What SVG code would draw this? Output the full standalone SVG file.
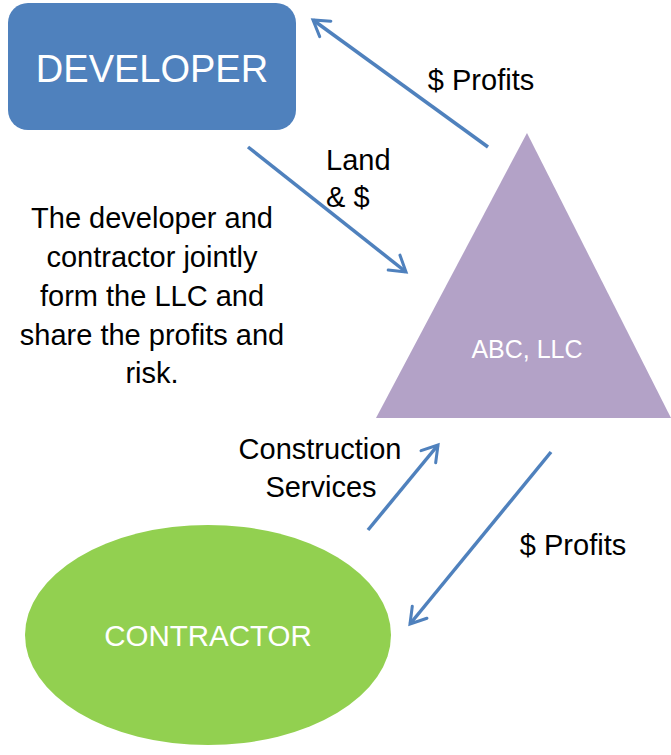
<svg xmlns="http://www.w3.org/2000/svg" width="671" height="755" viewBox="0 0 671 755">
<style>
.lbl{font-family:"Liberation Sans",Arial,sans-serif;font-size:29px;fill:#000;text-anchor:middle}
.wt{font-family:"Liberation Sans",Arial,sans-serif;fill:#fff;text-anchor:middle}
.arr{stroke:#4F81BD;stroke-width:3.5;fill:none;marker-end:url(#ah)}
</style>
<defs>
<marker id="ah" viewBox="0 0 12 12" refX="10" refY="6" markerWidth="6.5" markerHeight="6.5" markerUnits="strokeWidth" orient="auto">
<path d="M2,1 L10,6 L2,11" fill="none" stroke="#4F81BD" stroke-width="1.6" stroke-linecap="round" stroke-linejoin="miter"/>
</marker>
</defs>
<rect width="671" height="755" fill="#fff"/>
<g id="developer">
<rect x="8" y="3" width="288" height="127" rx="20" fill="#4F81BD"/>
<text class="wt" x="152" y="82" font-size="38">DEVELOPER</text>
</g>
<g id="llc">
<polygon points="527,133 376,418 671,418" fill="#B3A2C7"/>
<text class="wt" x="527" y="358" font-size="25">ABC, LLC</text>
</g>
<g id="contractor">
<ellipse cx="208" cy="635" rx="183" ry="110" fill="#92D050"/>
<text class="wt" x="208" y="646" font-size="29.5">CONTRACTOR</text>
</g>
<g id="connectors">
<line class="arr" x1="488" y1="147" x2="313" y2="20"/>
<line class="arr" x1="248" y1="147" x2="406" y2="272"/>
<line class="arr" x1="368" y1="530" x2="438" y2="445"/>
<line class="arr" x1="551" y1="452" x2="410" y2="624"/>
</g>
<g id="labels">
<text class="lbl" x="481" y="90">$ Profits</text>
<text class="lbl" x="326" y="170" text-anchor="start" style="text-anchor:start">Land</text>
<text class="lbl" x="326" y="207" text-anchor="start" style="text-anchor:start">&amp; $</text>
<text class="lbl" x="152" y="228">The developer and</text>
<text class="lbl" x="152" y="267">contractor jointly</text>
<text class="lbl" x="152" y="306">form the LLC and</text>
<text class="lbl" x="152" y="345">share the profits and</text>
<text class="lbl" x="152" y="383">risk.</text>
<text class="lbl" x="320" y="459">Construction</text>
<text class="lbl" x="321" y="497">Services</text>
<text class="lbl" x="573" y="555">$ Profits</text>
</g>
</svg>
